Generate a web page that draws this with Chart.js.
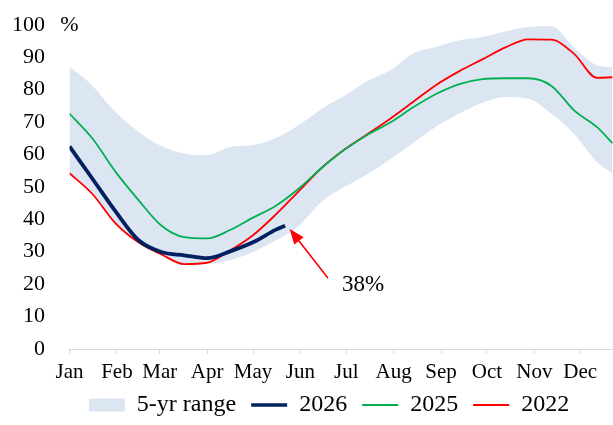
<html>

<head>
    <meta charset="utf-8">
    <title>Storage vs 5-yr range</title>

    <style type="text/css">
        html, body {
            margin: 0;
            padding: 0;
            overflow: hidden;
            background: #ffffff;
        }

        .chart {
            position: relative;
            width: 646px;
            height: 425px;
        }
    </style>

    <script src="https://cdn.jsdelivr.net/npm/chart.js@4.4.1/dist/chart.umd.min.js"></script>
</head>

<body>
<div class="chart">
    <canvas id="storageChart"></canvas>
</div>

<script>
        // day of year for each reading
        var days = [0, 15, 30, 45, 60, 75, 90, 105, 120, 135, 150, 165, 180,
                    195, 210, 225, 240, 255, 270, 285, 300, 315, 330, 345, 355];

        var rangeHigh = [87.2, 81.2, 73.1, 67.1, 62.6, 60.3, 59.8, 62.3, 62.9, 65.1, 69.1, 74.1, 78.2,
                         82.7, 86.0, 91.2, 93.2, 95.2, 96.2, 98.0, 99.3, 99.5, 93.0, 87.5, 86.9];
        var rangeLow = [54.0, 47.5, 38.5, 32.6, 28.9, 26.0, 26.2, 27.4, 29.9, 33.5, 38.0, 45.5, 50.0,
                        54.0, 58.6, 63.6, 68.6, 72.6, 75.9, 77.7, 77.2, 72.6, 66.3, 57.6, 54.2];
        var y2025 = [72.6, 64.9, 54.7, 46.0, 38.1, 34.5, 34.1, 36.7, 40.5, 44.2, 49.5, 55.9, 61.5,
                     66.1, 69.9, 74.6, 78.7, 81.7, 83.2, 83.5, 83.5, 81.2, 73.6, 68.4, 63.5];
        var y2022 = [54.2, 47.8, 38.8, 32.9, 29.2, 26.2, 26.6, 30.4, 35.1, 41.5, 48.7, 55.9, 61.6,
                     66.3, 71.1, 76.3, 81.5, 85.7, 89.3, 93.0, 95.5, 95.4, 91.0, 83.6, 83.8];

        var days2026 = [0, 15, 30, 45, 60, 75, 90, 105, 120, 135, 141];
        var y2026 = [62.5, 52.5, 42.5, 33.6, 29.9, 28.9, 28.0, 30.1, 32.9, 36.8, 38.0];

        var monthStarts = [0, 31, 59, 90, 120, 151, 181, 212, 243, 273, 304, 334];
        var monthLabels = ['Jan', 'Feb', 'Mar', 'Apr', 'May', 'Jun',
                           'Jul', 'Aug', 'Sep', 'Oct', 'Nov', 'Dec'];

        var navy = '#002060',
            green = '#00B050',
            red = '#FF0000',
            rangeColour = '#DCE6F2',
            serif = '"Liberation Serif", "Times New Roman", serif';

        function points(xs, ys) {
            return xs.map(function(x, i) {
                return {x: x, y: ys[i]};
            });
        }

        // "%" unit and the 38% arrow
        var extras = {
            id: 'extras',
            afterDraw: function(chart) {
                var ctx = chart.ctx,
                    xs = chart.scales.x,
                    ys = chart.scales.y;

                ctx.save();
                ctx.fillStyle = '#000';
                ctx.font = '22px ' + serif;
                ctx.textAlign = 'center';
                ctx.textBaseline = 'middle';
                ctx.fillText('%', chart.chartArea.left, ys.getPixelForValue(100));

                var tipX = xs.getPixelForValue(144), tipY = ys.getPixelForValue(37);
                var tailX = xs.getPixelForValue(169), tailY = ys.getPixelForValue(21.9);
                var ang = Math.atan2(tipY - tailY, tipX - tailX);

                ctx.strokeStyle = red;
                ctx.fillStyle = red;
                ctx.lineWidth = 1.6;
                ctx.beginPath();
                ctx.moveTo(tailX, tailY);
                ctx.lineTo(tipX - 10 * Math.cos(ang), tipY - 10 * Math.sin(ang));
                ctx.stroke();

                ctx.beginPath();
                ctx.moveTo(tipX, tipY);
                ctx.lineTo(tipX - 15 * Math.cos(ang) + 6 * Math.sin(ang), tipY - 15 * Math.sin(ang) - 6 * Math.cos(ang));
                ctx.lineTo(tipX - 15 * Math.cos(ang) - 6 * Math.sin(ang), tipY - 15 * Math.sin(ang) + 6 * Math.cos(ang));
                ctx.closePath();
                ctx.fill();

                ctx.fillStyle = '#000';
                ctx.font = '23px ' + serif;
                ctx.fillText('38%', xs.getPixelForValue(192), ys.getPixelForValue(19.7));
                ctx.restore();
            }
        };

        var ctx = document.getElementById('storageChart').getContext('2d');

        var storageChart = new Chart(ctx, {
            type: 'line',
            data: {
                datasets: [{
                    label: '2026',
                    data: points(days2026, y2026),
                    borderColor: navy,
                    borderWidth: 3.8
                }, {
                    label: '2025',
                    data: points(days, y2025),
                    borderColor: green,
                    borderWidth: 1.8
                }, {
                    label: '2022',
                    data: points(days, y2022),
                    borderColor: red,
                    borderWidth: 1.8
                }, {
                    label: '5-yr range',
                    data: points(days, rangeHigh),
                    borderWidth: 0,
                    backgroundColor: rangeColour,
                    fill: '+1'
                }, {
                    label: 'low',
                    data: points(days, rangeLow),
                    borderWidth: 0,
                    fill: false
                }]
            },
            options: {
                responsive: true,
                maintainAspectRatio: false,
                animation: false,
                elements: {
                    point: {radius: 0},
                    line: {cubicInterpolationMode: 'monotone'}
                },
                layout: {
                    padding: {top: 0, left: 12, right: 0, bottom: 0}
                },
                scales: {
                    x: {
                        type: 'linear',
                        min: 0,
                        max: 377,
                        afterBuildTicks: function(axis) {
                            axis.ticks = monthStarts.map(function(d) {
                                return {value: d};
                            });
                        },
                        afterFit: function(axis) {
                            axis.height = 35;
                        },
                        ticks: {
                            autoSkip: false,
                            maxRotation: 0,
                            padding: 12,
                            color: '#000',
                            font: {family: serif, size: 21, lineHeight: 0.57},
                            callback: function(value) {
                                return monthLabels[monthStarts.indexOf(value)];
                            }
                        },
                        grid: {
                            drawOnChartArea: false,
                            drawTicks: true,
                            tickLength: 5,
                            color: '#D9D9D9'
                        },
                        border: {display: true, color: '#D9D9D9'}
                    },
                    y: {
                        min: 0,
                        max: 100,
                        afterFit: function(axis) {
                            axis.width = 57.5;
                        },
                        ticks: {
                            stepSize: 10,
                            padding: 24.5,
                            color: '#000',
                            font: {family: serif, size: 22, lineHeight: 0.02}
                        },
                        grid: {display: false, drawTicks: false},
                        border: {display: false}
                    }
                },
                plugins: {
                    filler: {drawTime: 'beforeDatasetsDraw'},
                    tooltip: {enabled: false},
                    legend: {
                        position: 'bottom',
                        maxHeight: 41,
                        labels: {
                            usePointStyle: true,
                            pointStyleWidth: 36,
                            boxHeight: 13,
                            padding: 9,
                            color: '#000',
                            font: {family: serif, size: 24},
                            generateLabels: function() {
                                return [
                                    {text: '5-yr range ', fillStyle: rangeColour, strokeStyle: rangeColour, lineWidth: 0, pointStyle: 'rect', datasetIndex: 3},
                                    {text: '2026 ', fillStyle: navy, strokeStyle: navy, lineWidth: 3.5, pointStyle: 'line', datasetIndex: 0},
                                    {text: '2025 ', fillStyle: green, strokeStyle: green, lineWidth: 1.8, pointStyle: 'line', datasetIndex: 1},
                                    {text: '2022', fillStyle: red, strokeStyle: red, lineWidth: 1.8, pointStyle: 'line', datasetIndex: 2}
                                ];
                            }
                        }
                    }
                }
            },
            plugins: [extras]
        });
</script>
</body>

</html>
